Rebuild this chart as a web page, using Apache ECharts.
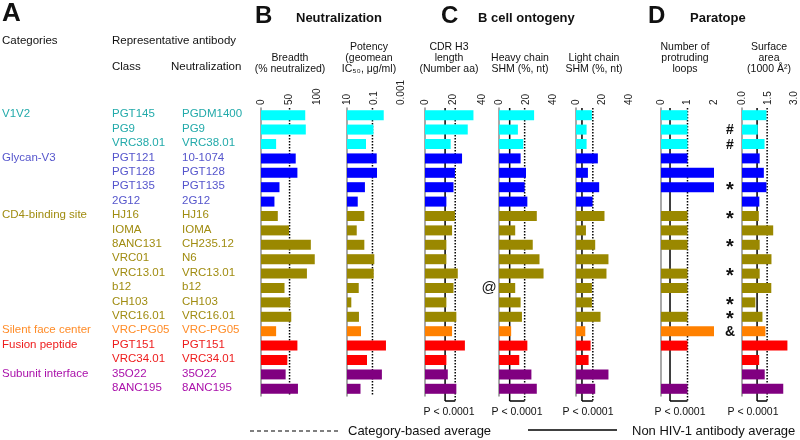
<!DOCTYPE html>
<html>
<head>
<meta charset="utf-8">
<script src="https://cdn.jsdelivr.net/npm/echarts@6/dist/echarts.min.js"></script>
<style>
html,body{margin:0;padding:0;background:#fff}
#main{width:800px;height:440px}
</style>
</head>
<body>
<div id="main"></div>
<script>
// categories and how many antibody rows each has
var categories = ['V1V2', 'Glycan-V3', 'CD4-binding site', 'Silent face center', 'Fusion peptide', 'Subunit interface'];
var categoryCount = [3, 4, 8, 1, 2, 2];
var classNames = ['PGT145', 'PG9', 'VRC38.01', 'PGT121', 'PGT128', 'PGT135', '2G12', 'HJ16', 'IOMA', '8ANC131',
  'VRC01', 'VRC13.01', 'b12', 'CH103', 'VRC16.01', 'VRC-PG05', 'PGT151', 'VRC34.01', '35O22', '8ANC195'];
var neutNames = ['PGDM1400', 'PG9', 'VRC38.01', '10-1074', 'PGT128', 'PGT135', '2G12', 'HJ16', 'IOMA', 'CH235.12',
  'N6', 'VRC13.01', 'b12', 'CH103', 'VRC16.01', 'VRC-PG05', 'PGT151', 'VRC34.01', '35O22', '8ANC195'];

var breadth = [79, 80, 27, 62, 65, 33, 24, 30, 50, 89, 96, 82, 42, 52, 54, 27, 65, 47, 44, 66];
var potency = [0.019, 0.11, 0.39, 0.063, 0.06, 0.47, 1.6, 0.52, 1.9, 0.52, 0.095, 0.105, 1.35, 4.8, 1.3, 0.92, 0.013, 0.33, 0.026, 1.0];
var cdrh3 = [34, 30, 18, 26, 21, 20, 15, 21, 19, 15, 15, 23, 20, 15, 22, 19, 28, 15, 16, 22];
var hcShm = [26, 14, 18, 16, 20, 19, 21, 28, 12, 25, 30, 33, 12, 16, 17, 9, 21, 15, 24, 28];
var lcShm = [12, 8, 8, 16.5, 9, 17.5, 12.5, 21.5, 7.5, 14.5, 24.5, 23, 12, 12, 18.5, 7, 11, 9.5, 24.5, 14.5];
var loops = [1, 1, 1, 1, 2, 2, 0, 1, 1, 1, 0, 1, 1, 0, 1, 2, 1, 0, 0, 1];
var surface = [1.41, 0.91, 1.3, 1.02, 1.26, 1.41, 1.0, 0.97, 1.8, 1.02, 1.7, 1.02, 1.69, 0.77, 1.18, 1.35, 2.62, 0.99, 1.31, 2.38];

// averages per column (dotted = category based, solid = non HIV-1 antibody)
var catAvg = [51, 0.13, 21.2, 19, 12.7, 1.0, 1.45];
var nonHivAvg = [null, null, 14.1, 7.9, 4.5, 0.34, 0.87];
var pText = [null, null, 'P < 0.0001', 'P < 0.0001', 'P < 0.0001', 'P < 0.0001', 'P < 0.0001'];

var potencyTicks = [10, 0.1, 0.001];
var heavyMarks = ['', '', '', '', '', '', '', '', '', '', '', '', '@', '', '', '', '', '', '', ''];
var surfaceMarks = ['', '#', '#', '', '', '*', '', '*', '', '*', '', '*', '', '*', '*', '&', '', '', '', ''];

var FONT = '"Liberation Sans", Arial, sans-serif';
var barColors = ['#00ffff', '#0000ff', '#9a8800', '#ff8000', '#ff0000', '#800080'];
var textColors = ['#22aaaa', '#5555cc', '#a08c10', '#ff8c28', '#ee1c1c', '#aa10aa'];

var rowCat = [];
categoryCount.forEach(function (n, c) {
  for (var k = 0; k < n; k++) rowCat.push(c);
});

var cols = [
  {data: breadth, left: 261, width: 56, min: 0, max: 100, interval: 50,
   head: ['Breadth', '(% neutralized)'], hx: 290, px: null},
  {data: potency, left: 347, width: 54, min: 0.001, max: 10, log: true,
   head: ['Potency', '(geomean', 'IC₅₀, μg/ml)'], hx: 369, px: null},
  {data: cdrh3, left: 425, width: 57, min: 0, max: 40, interval: 20,
   head: ['CDR H3', 'length', '(Number aa)'], hx: 449, px: 449},
  {data: hcShm, left: 499, width: 54, min: 0, max: 40, interval: 20,
   head: ['Heavy chain', 'SHM (%, nt)'], hx: 520, px: 517},
  {data: lcShm, left: 576, width: 53, min: 0, max: 40, interval: 20,
   head: ['Light chain', 'SHM (%, nt)'], hx: 594, px: 588},
  {data: loops, left: 661, width: 53, min: 0, max: 2, interval: 1,
   head: ['Number of', 'protruding', 'loops'], hx: 685, px: 680},
  {data: surface, left: 742, width: 52, min: 0, max: 3, interval: 1.5,
   head: ['Surface', 'area', '(1000 Å²)'], hx: 769, px: 753,
   fmt: function (v) { return (+v).toFixed(1); }}
];

var TOP = 108, H = 288;
var grids = [], xAxes = [], yAxes = [], series = [];
cols.forEach(function (col, i) {
  grids.push({left: col.left, width: col.width, top: TOP, height: H});
  var xa = {
    gridIndex: i, position: 'top', type: col.log ? 'log' : 'value',
    min: col.min, max: col.max,
    axisLine: {onZero: false, lineStyle: {color: '#7f7f7f', width: 1}},
    axisTick: {length: 4, lineStyle: {color: '#7f7f7f'}},
    splitLine: {show: false},
    axisLabel: {rotate: -90, fontSize: 10, color: '#222', fontFamily: FONT, margin: 3}
  };
  if (col.log) {
    xa.logBase = 10;
    xa.inverse = true;
    xa.startValue = 10;
    xa.axisLabel.customValues = potencyTicks;
    xa.axisTick.customValues = potencyTicks;
    xa.axisLabel.formatter = function (v) {
      var s = +(+v).toPrecision(2);
      return (s === 1 || s === 0.01) ? '' : String(s);
    };
  } else {
    xa.interval = col.interval;
    if (col.fmt) xa.axisLabel.formatter = col.fmt;
  }
  xAxes.push(xa);
  yAxes.push({
    gridIndex: i, type: 'category', data: classNames, inverse: true,
    axisLine: {onZero: false, lineStyle: {color: '#8c8c8c', width: 1.5}},
    axisTick: {show: false}, axisLabel: {show: false}, splitLine: {show: false}
  });
  series.push({
    type: 'bar', xAxisIndex: i, yAxisIndex: i, barWidth: 10, silent: true,
    data: col.data.map(function (v, k) {
      return {value: v, itemStyle: {color: barColors[rowCat[k]]}};
    })
  });
});

var chart = echarts.init(document.getElementById('main'));
chart.setOption({animation: false, grid: grids, xAxis: xAxes, yAxis: yAxes, series: series});

function txt(x, y, s, font, color, align) {
  return {type: 'text', x: x, y: y, silent: true,
    style: {text: s, font: font, fill: color || '#111', textAlign: align || 'left', textVerticalAlign: 'middle'}};
}
function line(x1, y1, x2, y2, w, dash) {
  return {type: 'line', silent: true, shape: {x1: x1, y1: y1, x2: x2, y2: y2},
    style: {stroke: '#000', lineWidth: w, lineDash: dash || null}};
}

var g = [];
var F11 = '11.5px ' + FONT;
function rowY(k) { return chart.convertToPixel({yAxisIndex: 0}, classNames[k]); }

// panel letters and titles
g.push(txt(2, 14, 'A', 'bold 26px ' + FONT));
g.push(txt(255, 16, 'B', 'bold 24px ' + FONT));
g.push(txt(296, 18, 'Neutralization', 'bold 13px ' + FONT));
g.push(txt(441, 16, 'C', 'bold 24px ' + FONT));
g.push(txt(478, 18, 'B cell ontogeny', 'bold 13px ' + FONT));
g.push(txt(648, 16, 'D', 'bold 24px ' + FONT));
g.push(txt(690, 18, 'Paratope', 'bold 13px ' + FONT));

// left table
g.push(txt(2, 41, 'Categories', F11));
g.push(txt(112, 41, 'Representative antibody', F11));
g.push(txt(112, 67, 'Class', F11));
g.push(txt(171, 67, 'Neutralization', F11));
var first = 0;
categories.forEach(function (c, ci) {
  g.push(txt(2, rowY(first) - 1, c, F11, textColors[ci]));
  first += categoryCount[ci];
});
classNames.forEach(function (n, k) {
  var y = rowY(k) - 1;
  g.push(txt(112, y, n, F11, textColors[rowCat[k]]));
  g.push(txt(182, y, neutNames[k], F11, textColors[rowCat[k]]));
});

// column headers, average lines, brackets
cols.forEach(function (col, i) {
  var ys = col.head.length === 3 ? [47, 58, 69] : [58, 69];
  col.head.forEach(function (h, j) {
    g.push(txt(col.hx, ys[j], h, '10.5px ' + FONT, '#111', 'center'));
  });
  var bottom = nonHivAvg[i] == null ? TOP + H : TOP + H + 5;
  var xd = chart.convertToPixel({xAxisIndex: i}, catAvg[i]);
  g.push(line(xd, TOP, xd, bottom, 1.5, [1.5, 1.5]));
  if (nonHivAvg[i] != null) {
    var xs = chart.convertToPixel({xAxisIndex: i}, nonHivAvg[i]);
    g.push(line(xs, TOP, xs, bottom, 1.5));
    g.push(line(xs, bottom, xd, bottom, 1.5));
    g.push(txt(col.px, 412, pText[i], '10.5px ' + FONT, '#111', 'center'));
  }
});

// significance marks
classNames.forEach(function (n, k) {
  var m = surfaceMarks[k];
  if (m === '*') g.push(txt(730, rowY(k) + 3, m, 'bold 20px ' + FONT, '#111', 'center'));
  else if (m) g.push(txt(730, rowY(k) + 1, m, 'bold 14px ' + FONT, '#111', 'center'));
  if (heavyMarks[k]) g.push(txt(489, rowY(k), heavyMarks[k], '15px ' + FONT, '#111', 'center'));
});

// legend
g.push(line(250, 431, 338, 431, 1.2, [4, 3]));
g.push(txt(348, 431, 'Category-based average', '13px ' + FONT));
g.push(line(528, 430, 617, 430, 1.5));
g.push(txt(632, 431, 'Non HIV-1 antibody average', '13px ' + FONT));

chart.setOption({graphic: g});
</script>
</body>
</html>
